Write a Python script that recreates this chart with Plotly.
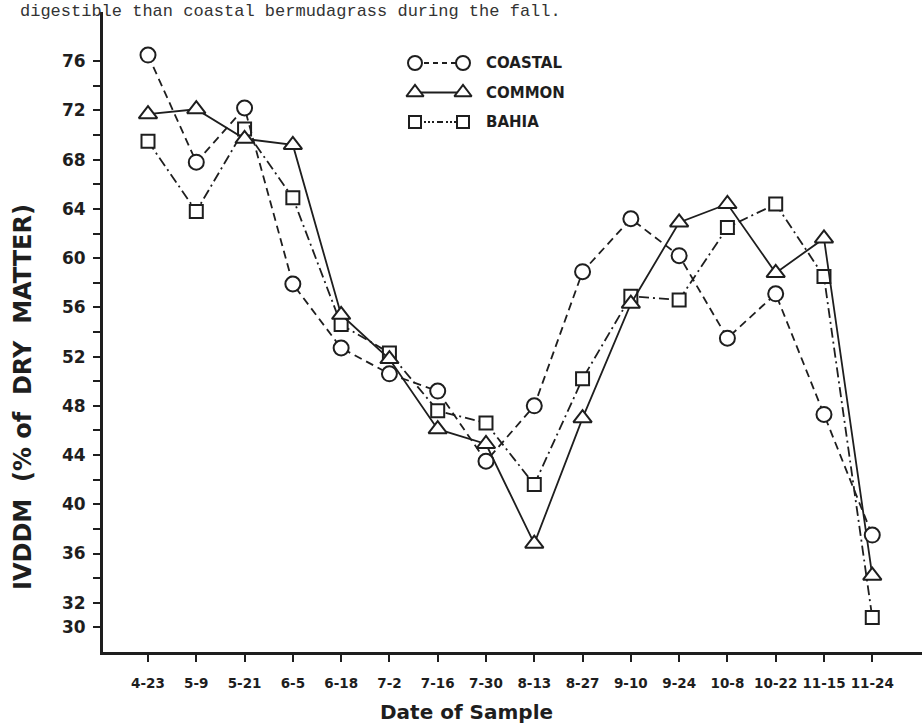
import plotly.graph_objects as go

# Sampling dates (month-day)
dates = ["4-23", "5-9", "5-21", "6-5", "6-18", "7-2", "7-16", "7-30",
         "8-13", "8-27", "9-10", "9-24", "10-8", "10-22", "11-15", "11-24"]

# In vitro digestible dry matter (% of dry matter)
coastal = [76.5, 67.8, 72.2, 57.9, 52.7, 50.6, 49.2, 43.5,
           48.0, 58.9, 63.2, 60.2, 53.5, 57.1, 47.3, 37.5]
common = [71.7, 72.1, 69.7, 69.2, 55.4, 51.8, 46.1, 44.9,
          36.8, 47.0, 56.3, 62.9, 64.4, 58.8, 61.6, 34.2]
bahia = [69.5, 63.8, 70.5, 64.9, 54.6, 52.3, 47.6, 46.6,
         41.6, 50.2, 56.9, 56.6, 62.5, 64.4, 58.5, 30.8]

series_names = ["COASTAL", "COMMON", "BAHIA"]
y_tick_vals = list(range(30, 78, 2))
y_labelled = [30, 32] + list(range(36, 80, 4))
y_tick_text = [str(v) if v in y_labelled else "" for v in y_tick_vals]

INK = "#1e1e1e"
FONT = "DejaVu Sans"
W, H = 922, 724
ML, MR, MT, MB = 103, 0, 12, 72
PW, PH = W - ML - MR, H - MT - MB


def px_x(px):
    """Horizontal page pixel -> paper fraction."""
    return (px - ML) / PW


def px_y(py):
    """Vertical page pixel (from top) -> paper fraction."""
    return (H - MB - py) / PH


styles = {
    "COASTAL": dict(symbol="circle", size=15, dash="8px,5px"),
    "COMMON": dict(symbol="triangle-up", size=16, dash="solid"),
    "BAHIA": dict(symbol="square", size=13, dash="10px,4px,2px,4px"),
}
values = {"COASTAL": coastal, "COMMON": common, "BAHIA": bahia}

fig = go.Figure()
x_idx = list(range(len(dates)))
for name in ["BAHIA", "COMMON", "COASTAL"]:
    st = styles[name]
    fig.add_trace(go.Scatter(
        x=x_idx, y=values[name], mode="lines+markers", name=name,
        line=dict(color=INK, width=1.8, dash=st["dash"]),
        marker=dict(symbol=st["symbol"], size=st["size"], color="white",
                    line=dict(color=INK, width=2)),
        cliponaxis=False, showlegend=False,
    ))

# Key: each series drawn as marker - line - marker on a small inset axis
key_dash = {"COASTAL": "5px,4px", "COMMON": "solid", "BAHIA": "6px,3px,2px,2px,2px,2px,2px,3px"}
for row, name in enumerate(series_names):
    st = styles[name]
    fig.add_trace(go.Scatter(
        x=[0, 1], y=[row, row], xaxis="x2", yaxis="y2", mode="lines+markers",
        line=dict(color=INK, width=1.8, dash=key_dash[name]),
        marker=dict(symbol=st["symbol"], size=st["size"] - 1, color="white",
                    line=dict(color=INK, width=2)),
        cliponaxis=False, showlegend=False, hoverinfo="skip",
    ))
    fig.add_annotation(
        x=px_x(484), xref="paper", xanchor="left",
        y=row, yref="y2", yanchor="middle", text=name, showarrow=False,
        font=dict(family=FONT, size=15, color=INK, weight="bold"),
    )

fig.update_layout(
    width=W, height=H,
    margin=dict(l=ML, r=MR, t=MT, b=MB),
    paper_bgcolor="white", plot_bgcolor="white",
    font=dict(family=FONT, color=INK),
    xaxis=dict(
        range=[-0.932, 16.03], tickmode="array", tickvals=x_idx, ticktext=dates,
        showgrid=False, zeroline=False, showline=True, linecolor=INK, linewidth=3,
        ticks="outside", ticklen=7, tickwidth=2, tickcolor=INK,
        tickfont=dict(family=FONT, size=13.5, color=INK, weight="bold"),
        ticklabelstandoff=10,
    ),
    yaxis=dict(
        range=[28, 80], tickmode="array", tickvals=y_tick_vals, ticktext=y_tick_text,
        showgrid=False, zeroline=False, showline=True, linecolor=INK, linewidth=3,
        ticks="outside", ticklen=7, tickwidth=2, tickcolor=INK,
        tickfont=dict(family=FONT, size=17, color=INK, weight="bold"),
        ticklabelstandoff=4,
    ),
    xaxis2=dict(domain=[px_x(415), px_x(463)], range=[0, 1],
                visible=False, anchor="y2"),
    yaxis2=dict(domain=[px_y(136.75), px_y(48.25)], range=[2.5, -0.5],
                visible=False, anchor="x2"),
)

# Axis titles
fig.add_annotation(
    x=px_x(23), xref="paper", y=px_y(397), yref="paper",
    text="IVDDM  (% of  DRY  MATTER)", textangle=-90, showarrow=False,
    xanchor="center", yanchor="middle",
    font=dict(family=FONT, size=24, color=INK, weight="bold"),
)
fig.add_annotation(
    x=px_x(466), xref="paper", y=px_y(712), yref="paper",
    text="Date of Sample", showarrow=False, xanchor="center", yanchor="middle",
    font=dict(family=FONT, size=20, color=INK, weight="bold"),
)

# Running text of the page above the figure
fig.add_annotation(
    x=px_x(18), xref="paper", y=px_y(0), yref="paper",
    text="digestible than coastal bermudagrass during the fall.", showarrow=False,
    xanchor="left", yanchor="top",
    font=dict(family="Liberation Mono", size=17, color="#333"),
)

fig.write_html("out.html")
